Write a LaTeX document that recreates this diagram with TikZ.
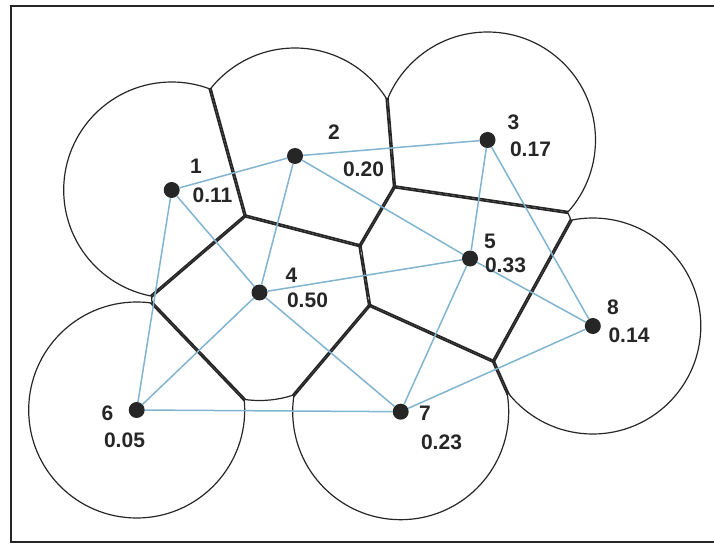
\documentclass[tikz,border=0pt]{standalone}
\usepackage{fontspec}
\setmainfont{Liberation Sans}
\usetikzlibrary{calc}
\definecolor{bl}{RGB}{128,180,208}
\definecolor{ink}{RGB}{38,38,38}
\newcommand\Rad{108pt}
% keep the half-plane of site #1 against site #2
\newcommand\keep[2]{\clip ($(s#1)!0.5!(s#2)!100cm!90:(s#2)$) -- ($(s#1)!0.5!(s#2)!100cm!-90:(s#2)$) -- ($(s#2)!100cm!(s#1)$) -- cycle;}
% bisector of sites #1 and #2
\newcommand\bis[2]{\draw[vedge] ($(s#1)!0.5!(s#2)!100cm!90:(s#2)$) -- ($(s#1)!0.5!(s#2)!100cm!-90:(s#2)$);}
% circle arc of a site inside its cell (closing the two inner joints)
\newcommand\arcs[1]{\begin{scope}[even odd rule]\clip (-50,-50) rectangle (800,650) (vJ) circle[radius=7pt] (vF) circle[radius=7pt]; \draw[circ] (s#1) circle[radius=\Rad];\end{scope}}
% region where the cell edges are drawn
\newcommand\eclip[1]{\clip (s#1) circle[radius=\Rad] (vJ) circle[radius=7pt] (vF) circle[radius=7pt];}
\begin{document}
\begin{tikzpicture}[x=1pt,y=-1pt,
  circ/.style={line width=1.2pt, draw=ink},
  vedge/.style={line width=3.4pt, draw=ink},
  dlink/.style={line width=1.5pt, draw=bl},
  site/.style={circle, fill=ink, inner sep=0pt, minimum size=16pt},
  lab/.style={font=\fontsize{21}{21}\selectfont\bfseries, text=ink, inner sep=0pt},
  border/.style={line width=2pt, draw=ink}]
\useasboundingbox (0,0) rectangle (714,545);
\draw[border] (714,6) -- (11,6) -- (11,542) -- (714,542);

\coordinate (s1) at (171.7,190);
\coordinate (s2) at (295,156);
\coordinate (s3) at (487.5,140);
\coordinate (s4) at (259.5,292.5);
\coordinate (s5) at (470,258.5);
\coordinate (s6) at (136.7,410);
\coordinate (s7) at (400.7,411.7);
\coordinate (s8) at (592.8,326);
\coordinate (vJ) at (360,245.7);
\coordinate (vF) at (369.6,305.4);

% cells: circle arcs inside each cell, cell edges inside each circle
\begin{scope}\keep12\keep13\keep14\keep15\keep16\keep17\keep18
 \arcs1 \eclip1
 \bis12\bis13\bis14\bis15\bis16\bis17\bis18
\end{scope}
\begin{scope}\keep21\keep23\keep24\keep25\keep26\keep27\keep28
 \arcs2 \eclip2
 \bis21\bis23\bis24\bis25\bis26\bis27\bis28
\end{scope}
\begin{scope}\keep31\keep32\keep34\keep35\keep36\keep37\keep38
 \arcs3 \eclip3
 \bis31\bis32\bis34\bis35\bis36\bis37\bis38
\end{scope}
\begin{scope}\keep41\keep42\keep43\keep45\keep46\keep47\keep48
 \arcs4 \eclip4
 \bis41\bis42\bis43\bis45\bis46\bis47\bis48
\end{scope}
\begin{scope}\keep51\keep52\keep53\keep54\keep56\keep57\keep58
 \arcs5 \eclip5
 \bis51\bis52\bis53\bis54\bis56\bis57\bis58
\end{scope}
\begin{scope}\keep61\keep62\keep63\keep64\keep65\keep67\keep68
 \arcs6 \eclip6
 \bis61\bis62\bis63\bis64\bis65\bis67\bis68
\end{scope}
\begin{scope}\keep71\keep72\keep73\keep74\keep75\keep76\keep78
 \arcs7 \eclip7
 \bis71\bis72\bis73\bis74\bis75\bis76\bis78
\end{scope}
\begin{scope}\keep81\keep82\keep83\keep84\keep85\keep86\keep87
 \arcs8 \eclip8
 \bis81\bis82\bis83\bis84\bis85\bis86\bis87
\end{scope}

% sites
\foreach \i in {1,...,8} \node[site] (p\i) at (s\i) {};

% links
\draw[dlink] (p1) -- (p2);
\draw[dlink] (p1) -- (p4);
\draw[dlink] (p1) -- (p6);
\draw[dlink] (p2) -- (p3);
\draw[dlink] (p2) -- (p4);
\draw[dlink] (p2) -- (p5);
\draw[dlink] (p3) -- (p5);
\draw[dlink] (p3) -- (p8);
\draw[dlink] (p4) -- (p5);
\draw[dlink] (p4) -- (p6);
\draw[dlink] (p4) -- (p7);
\draw[dlink] (p5) -- (p7);
\draw[dlink] (p5) -- (p8);
\draw[dlink] (p6) -- (p7);
\draw[dlink] (p7) -- (p8);

% labels
\node[lab] (n1) at (196,166) {1};
\node[lab] (v1) at (212.5,195) {0.11};
\node[lab] (n2) at (334,132) {2};
\node[lab] (v2) at (363.5,169) {0.20};
\node[lab] (n3) at (513.5,122) {3};
\node[lab] (v3) at (530.5,149) {0.17};
\node[lab] (n4) at (291.5,275) {4};
\node[lab] (v4) at (307.5,300) {0.50};
\node[lab] (n5) at (490,241) {5};
\node[lab] (v5) at (505.5,265) {0.33};
\node[lab] (n6) at (107.5,413) {6};
\node[lab] (v6) at (124.5,440) {0.05};
\node[lab] (n7) at (425,413) {7};
\node[lab] (v7) at (441.5,442) {0.23};
\node[lab] (n8) at (613,307) {8};
\node[lab] (v8) at (629,335) {0.14};
\end{tikzpicture}
\end{document}
